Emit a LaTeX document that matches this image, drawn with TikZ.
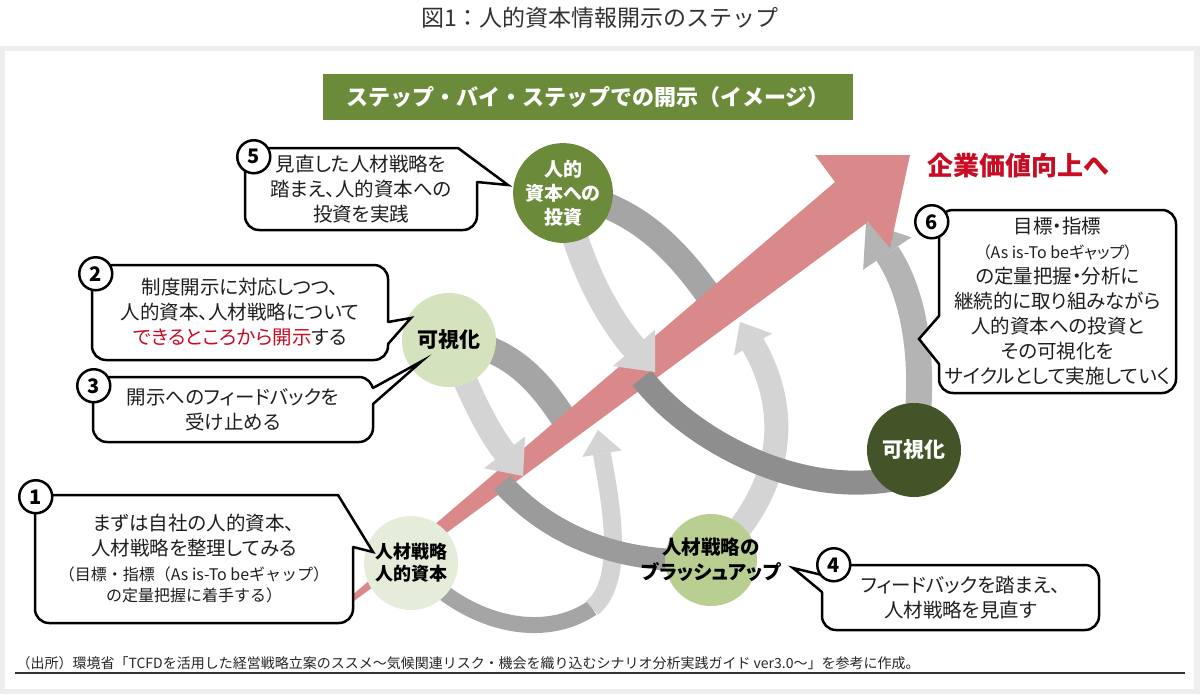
\documentclass[tikz,border=0pt]{standalone}
\usepackage{fontspec}
\setmainfont{Noto Sans CJK JP}
\newfontfamily\propfont{Noto Sans CJK JP}[RawFeature=+palt]
\usetikzlibrary{arrows.meta,calc}

\definecolor{bannergreen}{RGB}{107,139,59}
\definecolor{deepgreen}{RGB}{67,85,40}
\definecolor{midgreen}{RGB}{184,207,145}
\definecolor{palegreen}{RGB}{212,226,190}
\definecolor{mistgreen}{RGB}{230,236,218}
\definecolor{arrowred}{RGB}{217,137,137}
\definecolor{textred}{RGB}{200,12,36}
\definecolor{bandlight}{RGB}{212,212,212}
\definecolor{bandmid}{RGB}{180,180,180}
\definecolor{banddark}{RGB}{165,165,165}
\definecolor{bandshade}{RGB}{155,155,155}
\definecolor{banddeep}{RGB}{142,142,142}
\definecolor{framegrey}{RGB}{238,238,238}

\newcommand{\bubblefont}{\propfont\fontsize{19.5}{25}\selectfont}
\newcommand{\notefont}{\rmfamily\fontsize{16}{21}\selectfont}

\tikzset{
  bubble/.style={draw=black, line width=2.5pt, fill=white, rounded corners=14pt,
    align=center, inner sep=0pt, font=\bubblefont, text=black!88},
  tail/.style={draw=black, line width=2.5pt, line cap=round},
  numc/.style={circle, draw=black, line width=2.5pt, fill=white,
    minimum size=33pt, inner sep=0pt, font=\bfseries\fontsize{20}{20}\selectfont},
  stage/.style={circle, minimum size=94pt, inner sep=0pt, align=center,
    font=\propfont\bfseries\fontsize{18}{22}\selectfont},
  band/.style={line width=#1},
  head/.style 2 args={-{Triangle[width=#1,length=#2,line width=0pt]}}
}

\begin{document}
\begin{tikzpicture}[x=1pt, y=-1pt]
  \useasboundingbox (0,0) rectangle (1200,694);
  % frame
  \fill[framegrey] (0,46) rectangle (1200,694);
  \fill[white] (5,51) rectangle (1194,689);

  % title and banner
  \node[font=\fontsize{23}{23}\selectfont, text=black!80] (title) at (600,18) {図1：人的資本情報開示のステップ};
  \node[fill=bannergreen, minimum width=530pt, minimum height=46pt, inner sep=0pt,
        text=white, font=\bfseries\fontsize{22}{22}\selectfont] (banner) at (588,97)
        {ステップ・バイ・ステップでの開示（イメージ）};

  % centres of the stages
  \coordinate (c1) at (411,563);
  \coordinate (c2) at (449,340);
  \coordinate (c3) at (711,560);
  \coordinate (c4) at (563,193);
  \coordinate (c5) at (914,450);

  % free ends of the bands
  \coordinate (j1) at (592,608);
  \coordinate (e1) at (598,430);
  \coordinate (e2) at (523,476);
  \coordinate (e3) at (568,425);
  \coordinate (e4) at (502,483);
  \coordinate (e5) at (740,322);
  \coordinate (e6) at (712,300);
  \coordinate (e7) at (655,372);
  \coordinate (e8) at (642,378);
  \coordinate (f8) at (900,478);
  \coordinate (e9) at (866,222);

  % bands behind the red arrow
  \draw[band=16pt, banddark] (c1) .. controls (470,628) and (545,640) .. (j1);
  \draw[band=18pt, bandlight, head={40pt}{24pt}] (j1) .. controls (628,580) and (608,490) .. (e1);
  \draw[band=26pt, banddark] (c2) .. controls (515,345) and (545,390) .. (e3);
  \draw[band=24pt, bandlight, head={44pt}{26pt}] (c3) .. controls (795,480) and (785,400) .. (e5);
  \draw[band=26pt, banddark] (c4) .. controls (630,205) and (670,240) .. (e6);
  \draw[band=26pt, bandmid, head={58pt}{38pt}] (c5) .. controls (930,340) and (905,280) .. (e9);

  % the red arrow
  \fill[arrowred] (350,597) -- (835,182) -- (815,155) -- (910,155) -- (890,248)
    -- (868,222) -- (354,601) -- cycle;

  % bands in front of the red arrow
  \draw[band=22pt, bandshade] (e4) .. controls (545,530) and (610,565) .. (c3);
  \draw[band=24pt, banddeep] (e8) .. controls (690,440) and (800,500) .. (f8);
  \draw[band=24pt, bandlight, head={52pt}{30pt}] (c2) .. controls (475,410) and (495,440) .. (e2);
  \draw[band=26pt, bandlight, head={56pt}{32pt}] (c4) .. controls (580,270) and (610,320) .. (e7);

  % stages
  \node[stage, fill=mistgreen] (n1) at (c1) {人材戦略\\人的資本};
  \node[stage, fill=palegreen, font=\bfseries\fontsize{21}{21}\selectfont] (n2) at (c2) {可視化};
  \node[stage, fill=midgreen, minimum size=92pt] (n3) at (c3) {};
  \node[align=center, font=\propfont\bfseries\fontsize{19.5}{25}\selectfont] (n3t) at (c3) {人材戦略の\\ブラッシュアップ};
  \node[stage, fill=bannergreen, minimum size=92pt, text=white, font=\propfont\bfseries\fontsize{19}{24}\selectfont] (n4) at (c4) {人的\\資本への\\投資};
  \node[stage, fill=deepgreen, text=white, font=\bfseries\fontsize{21}{21}\selectfont] (n5) at (c5) {可視化};

  % speech bubbles
  \node[bubble, minimum width=318pt, minimum height=128pt] (b1) at (194,559)
    {まずは自社の人的資本、\\人材戦略を整理してみる\\{\notefont （目標・指標（As is-To beギャップ）}\\[-4pt]{\notefont の定量把握に着手する）}};
  \fill[white] (338,502) -- (338,492) -- (356,492) -- (356,524) -- (373,552) -- (353,547) -- (346,547) -- (346,502) -- cycle;
  \draw[tail] (338,495) -- (373,552) -- (353,547);

  \node[bubble, minimum width=296pt, minimum height=95pt] (b2) at (240,312.5)
    {制度開示に対応しつつ、\\人的資本、人材戦略について\\{\color{textred}できるところから開示}する};
  \fill[white] (381,322) -- (388,322) -- (411,318) -- (388,344) -- (381,344) -- cycle;
  \draw[tail] (388,322) -- (411,318) -- (388,344);

  \node[bubble, minimum width=280pt, minimum height=65pt] (b3) at (233,409.5)
    {開示へのフィードバックを\\受け止める};
  \fill[white] (366,388) -- (373,388) -- (422,361) -- (373,404) -- (366,404) -- cycle;
  \draw[tail] (373,388) -- (422,361) -- (373,404);

  \node[bubble, minimum width=277pt, minimum height=65pt] (b4) at (960.5,597.5)
    {フィードバックを踏まえ、\\人材戦略を見直す};
  \fill[white] (829,575) -- (822,575) -- (793,568) -- (822,592) -- (829,592) -- cycle;
  \draw[tail] (822,575) -- (793,568) -- (822,592);

  \node[bubble, minimum width=232pt, minimum height=82pt] (b5) at (361,189)
    {見直した人材戦略を\\踏まえ、人的資本への\\投資を実践};
  \fill[white] (458,155) -- (458,145) -- (480,145) -- (480,164) -- (508,185) -- (477,182) -- (470,182) -- (470,155) -- cycle;
  \draw[tail] (458,148) -- (508,185) -- (477,182);

  \node[bubble, minimum width=237pt, minimum height=183pt] (b6) at (1057.5,301.5)
    {目標・指標\\{\fontsize{16}{21}\selectfont （As is-To beギャップ）}\\の定量把握・分析に\\継続的に取り組みながら\\人的資本への投資と\\その可視化を\\サイクルとして実施していく};
  \fill[white] (946,316) -- (939,316) -- (919,339) -- (939,364) -- (946,364) -- cycle;
  \draw[tail] (939,316) -- (919,339) -- (939,364);

  % step numbers
  \node[numc] (k1) at ($(b1.north west)+(2,3)$) {1};
  \node[numc] (k2) at ($(b2.north west)+(5,10)$) {2};
  \node[numc] (k3) at ($(b3.north west)+(2,10)$) {3};
  \node[numc] (k4) at ($(b4.north west)+(13,1)$) {4};
  \node[numc] (k5) at ($(b5.north west)+(10,10)$) {5};
  \node[numc] (k6) at ($(b6.north west)+(-6,13)$) {6};

  % goal and source
  \node[text=textred, font=\bfseries\fontsize{26}{26}\selectfont] (goal) at (1018,166) {企業価値向上へ};
  \node[anchor=west, font=\fontsize{14}{14}\selectfont, text=black!85] (src) at (13,663)
    {（出所）環境省「TCFDを活用した経営戦略立案のススメ～気候関連リスク・機会を織り込むシナリオ分析実践ガイド ver3.0～」を参考に作成。};
  \draw[line width=2pt, black!80] (15,673) -- (1185,673);
\end{tikzpicture}
\end{document}
